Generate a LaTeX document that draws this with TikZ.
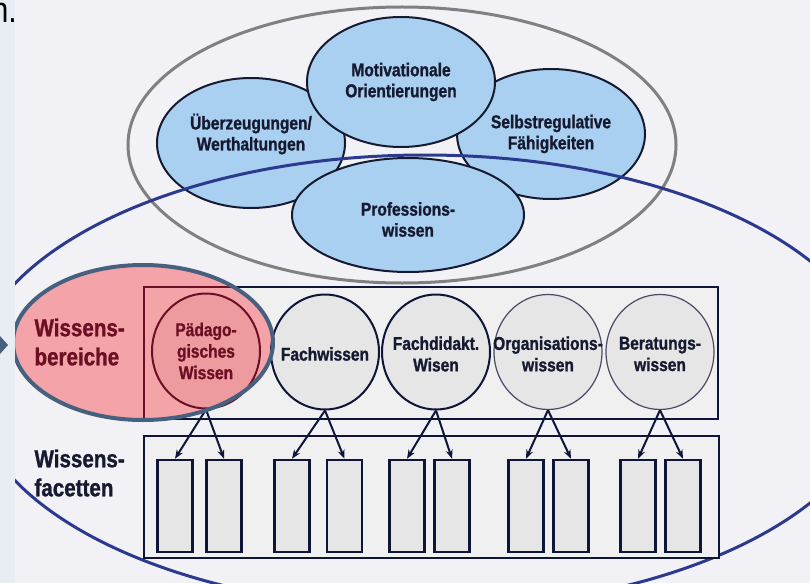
\documentclass[tikz,border=0pt]{standalone}
\usepackage{fontspec}
\setmainfont{Liberation Sans}[FakeStretch=0.84, BoldFeatures={FakeBold=1.2}]
\usetikzlibrary{shapes.geometric,arrows.meta}

\definecolor{bgcol}{HTML}{F2F2F6}
\definecolor{stripcol}{HTML}{E8EDF3}
\definecolor{ringgray}{HTML}{808080}
\definecolor{skycol}{HTML}{A9D0F0}
\definecolor{inkcol}{HTML}{161A30}
\definecolor{navycol}{HTML}{0F1538}
\definecolor{deepblue}{HTML}{2B3A8F}
\definecolor{boxgray}{HTML}{F0F0F0}
\definecolor{cellgray}{HTML}{E6E6E6}
\definecolor{pinkcol}{HTML}{F4A3A8}
\definecolor{pinkcell}{HTML}{EE9BA0}
\definecolor{wine}{HTML}{6B1024}
\definecolor{slatecol}{HTML}{46617F}
\definecolor{softnavy}{HTML}{4A4A66}

\tikzset{
  blob/.style={ellipse, draw=inkcol, line width=2pt, fill=skycol,
    minimum width=188pt, minimum height=130pt, inner sep=0pt},
  blobtext/.style={align=center, text=inkcol, font=\bfseries\fontsize{18.5}{21}\selectfont},
  bigbox/.style={rectangle, draw=navycol, line width=2.5pt, fill=boxgray, outer sep=0pt},
  areacirc/.style={ellipse, draw=navycol, line width=2pt, fill=cellgray,
    minimum width=108pt, minimum height=115pt, inner sep=0pt},
  areatext/.style={align=center, text=inkcol, font=\bfseries\fontsize{18.5}{21.5}\selectfont},
  thincirc/.style={areacirc, draw=softnavy, line width=1.2pt},
  pinkcirc/.style={areacirc, draw=wine, fill=pinkcell},
  facet/.style={rectangle, draw=navycol, line width=2.5pt, fill=cellgray,
    minimum width=35pt, minimum height=92pt, inner sep=0pt},
  pointer/.style={-{Stealth[length=9pt,width=7pt]}, draw=navycol, line width=2pt},
  sidelabel/.style={anchor=west, align=left, font=\bfseries\fontsize{24.5}{29}\selectfont}
}

\begin{document}
\begin{tikzpicture}[x=1pt,y=-1pt]

  \clip (0,0) rectangle (810,583);
  \fill[bgcol] (0,0) rectangle (810,583);

  % outer ring
  \draw[ringgray, line width=3pt] (402,145) ellipse (274 and 138);

  % the four components
  \node[blob, label={[blobtext,yshift=9pt]center:Überzeugungen/\\Werthaltungen}] (ue) at (251,143) {};
  \node[blob, label={[blobtext]center:Selbstregulative\\Fähigkeiten}] (sr) at (551,134) {};
  \node[blob, label={[blobtext]center:Motivationale\\Orientierungen}] (mo) at (401,82) {};
  \node[blob, minimum width=232pt, minimum height=114pt,
    label={[blobtext,yshift=-4.5pt]center:Professions-\\wissen}] (pw) at (408,215) {};

  % big blue ring
  \draw[deepblue, line width=3pt] (425,382) ellipse (455 and 227);

  % boxes
  \node[bigbox, minimum width=574pt, minimum height=132pt] (wb) at (431,353) {};
  \node[bigbox, minimum width=575pt, minimum height=122pt] (wf) at (431.5,497) {};

  % highlight
  \fill[pinkcol] (143,342.5) ellipse (130 and 77.5);
  \begin{scope}
    \clip (143,342.5) ellipse (130 and 77.5);
    \draw[wine, line width=2.5pt] (wb.north west) rectangle (wb.south east);
  \end{scope}

  % knowledge areas
  \node[pinkcirc, label={[areatext,text=wine]center:Pädago-\\gisches\\Wissen}] (c1) at (206,351) {};
  \node[areacirc, label={[areatext,yshift=-2pt]center:Fachwissen}] (c2) at (325,352) {};
  \node[areacirc, label={[areatext,yshift=-2pt]center:Fachdidakt.\\Wisen}] (c3) at (436,352) {};
  \node[thincirc, label={[areatext,yshift=-2pt]center:Organisations-\\wissen}] (c4) at (548,352) {};
  \node[thincirc, label={[areatext,yshift=-2pt]center:Beratungs-\\wissen}] (c5) at (660,352) {};

  % facets
  \node[facet] (f1) at (175,506) {};
  \node[facet] (f2) at (224,506) {};
  \node[facet] (f3) at (292,506) {};
  \node[facet] (f4) at (344.5,506) {};
  \node[facet] (f5) at (407,506) {};
  \node[facet] (f6) at (452,506) {};
  \node[facet] (f7) at (526,506) {};
  \node[facet] (f8) at (571,506) {};
  \node[facet] (f9) at (638,506) {};
  \node[facet] (f10) at (683,506) {};

  \draw[pointer] (c1.south) -- (f1.north);
  \draw[pointer] (c1.south) -- (f2.north);
  \draw[pointer] (c2.south) -- (f3.north);
  \draw[pointer] (c2.south) -- (f4.north);
  \draw[pointer] (c3.south) -- (f5.north);
  \draw[pointer] (c3.south) -- (f6.north);
  \draw[pointer] (c4.south) -- (f7.north);
  \draw[pointer] (c4.south) -- (f8.north);
  \draw[pointer] (c5.south) -- (f9.north);
  \draw[pointer] (c5.south) -- (f10.north);

  \draw[slatecol, line width=4pt] (143,342.5) ellipse (130 and 77.5);

  \node[sidelabel, text=wine] (bereiche) at (31,342) {Wissens-\\bereiche};
  \node[sidelabel, text=inkcol] (facetten) at (31,473) {Wissens-\\facetten};

  % left strip of the slide
  \fill[stripcol] (0,0) rectangle (15,583);
  \node[anchor=base east, inner sep=0pt, font=\fontsize{36}{40}\selectfont] (cut) at (17,23) {n.};
  \fill[slatecol] (0,336) -- (8,345) -- (0,354) -- cycle;

\end{tikzpicture}
\end{document}
